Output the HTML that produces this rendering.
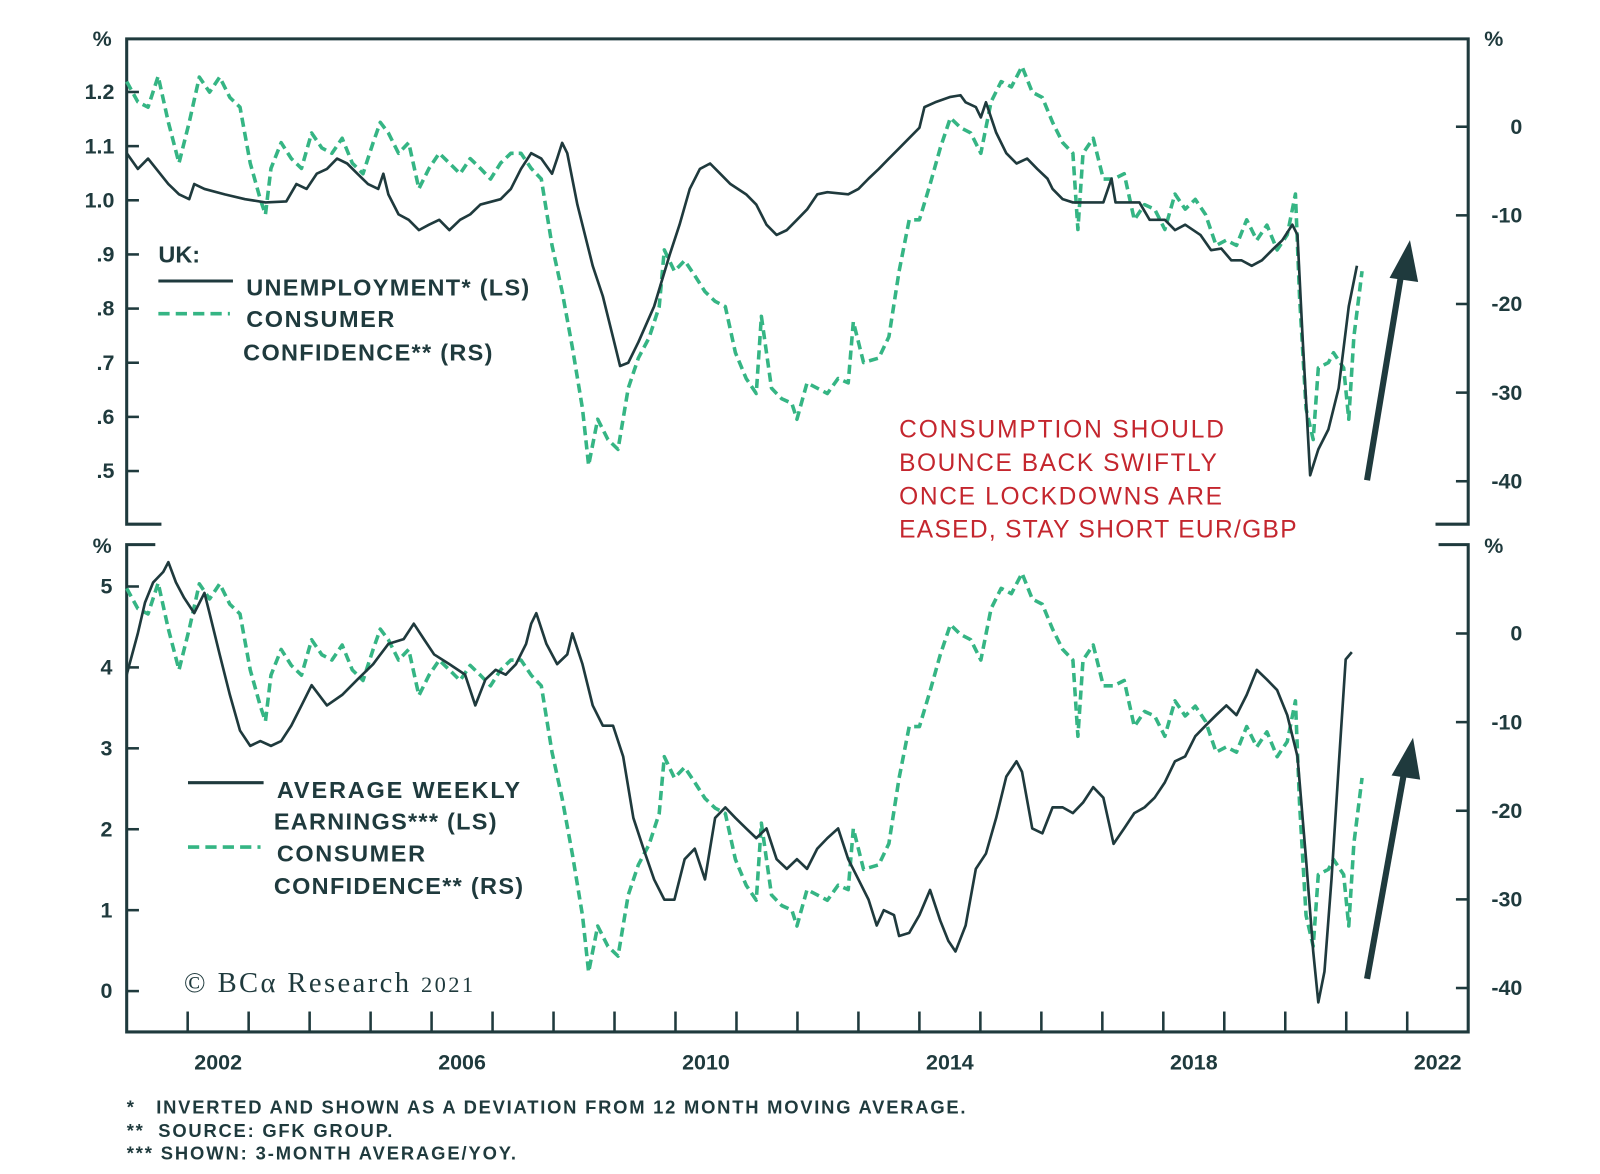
<!DOCTYPE html>
<html><head><meta charset="utf-8"><style>
html,body{margin:0;padding:0;background:#fff;}
svg{display:block;}
text{font-family:"Liberation Sans",sans-serif;}
</style></head><body>
<svg id="chart" width="1600" height="1174" viewBox="0 0 1566 1149" xmlns="http://www.w3.org/2000/svg">
<g id="frame" stroke="#1f3a3d" stroke-width="3" fill="none">
  <path d="M158,513 H124 V38 H1437 V513 H1405"/>
  <path d="M152,533 H124 V1010 H1437 V533 H1408"/>
</g>
<g id="axes" fill="#1f3a3d" font-size="21" font-weight="bold"></g>
<g id="series"></g>
<g fill="#1f3a3d" font-size="23" font-weight="bold">
  <text x="155" y="257">UK:</text>
  <line x1="155" y1="275" x2="228" y2="275" stroke="#1f3a3d" stroke-width="3"/>
  <text x="241" y="289" textLength="277">UNEMPLOYMENT* (LS)</text>
  <line x1="155" y1="307" x2="225" y2="307" stroke="#35b584" stroke-width="3.5" stroke-dasharray="11,6"/>
  <text x="241" y="320" textLength="145">CONSUMER</text>
  <text x="238" y="353" textLength="244">CONFIDENCE** (RS)</text>
</g>
<g fill="#1f3a3d" font-size="23" font-weight="bold">
  <line x1="184" y1="766" x2="258" y2="766" stroke="#1f3a3d" stroke-width="3"/>
  <text x="271" y="781" textLength="238">AVERAGE WEEKLY</text>
  <text x="268" y="812" textLength="218">EARNINGS*** (LS)</text>
  <line x1="184" y1="829" x2="255" y2="829" stroke="#35b584" stroke-width="3.5" stroke-dasharray="11,6"/>
  <text x="271" y="843" textLength="145">CONSUMER</text>
  <text x="268" y="875" textLength="244">CONFIDENCE** (RS)</text>
</g>
<g fill="#c4262e" font-size="24">
  <text x="880" y="428" textLength="318">CONSUMPTION SHOULD</text>
  <text x="880" y="461" textLength="311">BOUNCE BACK SWIFTLY</text>
  <text x="880" y="494" textLength="316">ONCE LOCKDOWNS ARE</text>
  <text x="880" y="526" textLength="389">EASED, STAY SHORT EUR/GBP</text>
</g>
<g fill="#1f3a3d" stroke="#1f3a3d">
  <g><line x1="1338" y1="470" x2="1372" y2="265" stroke-width="6"/><polygon points="1380,235 1360,272 1388,276" stroke="none"/></g>
  <g><line x1="1338" y1="958" x2="1375" y2="752" stroke-width="6"/><polygon points="1383,722 1362,759 1390,763" stroke="none"/></g>
</g>
<text x="180" y="971" style="font-family:'Liberation Serif',serif" font-size="28" fill="#1f3a3d" textLength="283">© BCα Research <tspan font-size="22">2021</tspan></text>
<g fill="#1f3a3d" font-size="18" font-weight="bold">
  <text x="124" y="1090" textLength="821" xml:space="preserve">*   INVERTED AND SHOWN AS A DEVIATION FROM 12 MONTH MOVING AVERAGE.</text>
  <text x="124" y="1113" textLength="260" xml:space="preserve">**  SOURCE: GFK GROUP.</text>
  <text x="124" y="1135" textLength="381" xml:space="preserve">*** SHOWN: 3-MONTH AVERAGE/YOY.</text>
</g>
</svg>
<script>
// months since Jan 2001
const ccMonths=[0,2.2,4.2,6.2,8.2,10.3,12.3,14.3,16.3,18.3,20.3,22.3,24.3,26.3,27.3,28.4,30.4,32.4,34.4,36.4,38.4,40.4,42.4,44.4,46.5,48.5,49.9,51.5,53.5,55.5,57.5,59.5,61.5,63.5,65.6,67.6,69.6,71.6,73.6,75.6,77.6,79.6,81.6,83.7,85.7,87.7,89.7,90.9,92.7,94.7,96.7,98.7,100.7,102.8,104.8,105.8,107.8,109.8,111.8,113.8,115.8,117.8,119.8,121.9,123.9,124.9,126.9,128.9,130.9,131.9,133.9,135.9,137.9,140,142,143,145,148,150,152,154,156,158.1,160.1,162.1,164.1,166.1,168.1,170.1,172.1,174.1,176.2,178.2,180.2,182.2,184.2,186.2,187.2,188.2,190.2,192.2,194.2,196.3,198.3,200.3,202.3,204.3,206.3,208.3,210.3,212.3,214.4,216.4,218.4,220.4,222.4,224.4,226.4,228.4,230,230.8,232.1,233.5,234.5,236.5,237.5,239.5,240.5,241.5,243.1];
const ccValues=[5.1,2.8,2.2,5.7,0.5,-4.1,0.5,5.6,3.9,5.6,3.3,2.2,-4.1,-8.2,-9.9,-4.7,-1.8,-3.6,-4.7,-0.7,-2.4,-3,-1.3,-4.1,-5.3,-1.8,0.5,-0.7,-3,-1.8,-7,-4.7,-3,-4.1,-5.3,-3.6,-4.7,-5.9,-4.1,-3,-3,-4.7,-5.9,-13.4,-18.6,-24.9,-31.8,-38.2,-33,-35.3,-36.4,-29.5,-26.1,-23.8,-20.3,-13.9,-16.3,-15.1,-16.8,-18.6,-19.7,-20.3,-25.5,-28.4,-30.1,-21.4,-29.5,-30.7,-31.2,-33,-28.9,-29.5,-30.1,-28.4,-28.9,-22,-26.6,-26.1,-23.7,-16.3,-10.5,-10.5,-6.5,-2.4,1,-0.1,-0.7,-3,2.8,5.1,4.5,6.8,3.9,3.3,0.5,-1.8,-3,-11.6,-3,-1.3,-5.9,-5.9,-5.3,-10.5,-8.8,-9.3,-11.6,-7.6,-9.3,-8.2,-9.9,-13.4,-12.8,-13.4,-10.5,-12.8,-11.1,-13.9,-12.2,-7.6,-19.1,-31.8,-35.3,-27.2,-26.6,-25.5,-27.2,-33,-23.7,-16.3];
const unMonths=[0,2.2,4.2,8.2,9.2,10.3,12.3,13.3,15.3,19.3,23.3,27.3,31.4,33.4,35.4,37.4,39.4,41.4,43.4,45.4,47.5,49.5,50.5,51.5,53.5,55.5,57.5,59.5,61.5,63.5,65.6,67.6,69.6,73.6,75.6,77.6,79.6,81.6,83.7,84.7,85.7,86.7,88.7,91.7,93.7,95.7,97.1,98.7,100.7,103.8,106.8,108.8,110.8,112.8,114.8,116.8,118.8,121.9,123.9,125.9,127.9,129.9,131.9,133.9,135.9,137.9,142,144,146,148,150,152,154,156,157,159.1,162.1,164.1,165.1,167.1,168.1,169.1,171.1,173.1,175.1,177.2,179.2,181.2,182.2,184.2,186.2,192.2,193.8,194.6,199.3,201.3,204.3,206.3,208.3,211.3,213.4,215.4,217.4,219.4,221.4,223.4,225.4,227.4,229.4,230.4,231.4,232.9,234.5,236.5,238.5,240.5,242.1];
const unValues=[1.087,1.058,1.077,1.03,1.021,1.011,1.002,1.03,1.021,1.011,1.002,0.996,0.998,1.03,1.021,1.049,1.058,1.077,1.068,1.049,1.03,1.021,1.049,1.011,0.974,0.964,0.945,0.955,0.964,0.945,0.964,0.974,0.992,1.002,1.021,1.058,1.087,1.077,1.049,1.077,1.106,1.087,0.992,0.879,0.823,0.747,0.694,0.7,0.738,0.804,0.898,0.955,1.021,1.058,1.068,1.049,1.03,1.011,0.992,0.955,0.936,0.945,0.964,0.983,1.011,1.015,1.011,1.021,1.04,1.058,1.077,1.096,1.115,1.134,1.172,1.181,1.191,1.194,1.181,1.172,1.153,1.181,1.125,1.087,1.068,1.077,1.058,1.04,1.021,1.002,0.996,0.996,1.04,0.996,0.996,0.964,0.964,0.945,0.955,0.936,0.908,0.911,0.889,0.889,0.879,0.889,0.908,0.926,0.955,0.936,0.747,0.492,0.54,0.577,0.653,0.804,0.879];
const erMonths=[0,2.2,3.6,5.2,7.2,8.2,9.7,11.3,13.3,15.3,16.3,18.3,20.3,22.3,24.3,26.3,28.4,30.4,32.4,34.4,36.4,39.4,42.4,45.4,48.5,51.5,54.5,56.5,58.5,60.5,63.5,66.6,68.6,70.6,72.6,74.6,76.6,78.6,79.6,80.6,82.6,84.7,86.7,87.7,89.7,91.7,93.7,95.7,97.7,99.7,101.7,103.8,105.8,107.8,109.8,111.8,113.8,115.8,117.8,119.8,121.9,123.9,125.9,127.9,129.9,131.9,133.9,135.9,137.9,140,142,144,146,147.6,149,151,152,154,156,158.1,160.1,161.7,163.1,165.1,167.1,169.1,171.1,173.1,175.1,176.2,178.2,180.2,182.2,184.2,186.2,188.2,190.2,192.2,194.2,196.3,198.3,200.3,202.3,204.3,206.3,208.3,210.3,212.3,214.4,216.4,218.4,220.4,222.4,224.4,226.4,228.4,230.4,232.1,233.5,234.5,235.7,237.1,238.5,239.9,241.1];
const erValues=[3.91,4.42,4.8,5.05,5.18,5.3,5.05,4.86,4.67,4.92,4.67,4.16,3.66,3.22,3.03,3.09,3.03,3.09,3.28,3.53,3.78,3.53,3.66,3.85,4.04,4.29,4.35,4.54,4.35,4.16,4.04,3.91,3.53,3.85,3.97,3.91,4.04,4.29,4.54,4.67,4.29,4.04,4.16,4.42,4.04,3.53,3.28,3.28,2.9,2.14,1.76,1.38,1.13,1.13,1.63,1.76,1.38,2.14,2.27,2.14,2.01,1.89,2.01,1.63,1.51,1.63,1.51,1.76,1.89,2.01,1.63,1.38,1.13,0.81,1,0.94,0.68,0.72,0.94,1.25,0.87,0.62,0.49,0.81,1.51,1.7,2.14,2.65,2.84,2.71,2.01,1.95,2.27,2.27,2.2,2.33,2.52,2.39,1.82,2.01,2.2,2.27,2.39,2.58,2.84,2.9,3.15,3.28,3.41,3.53,3.41,3.66,3.97,3.85,3.72,3.41,2.9,1.63,0.49,-0.14,0.24,1.38,2.77,4.1,4.19];
const yearLabels=["2002","2006","2010","2014","2018","2022"];
const topLeftTicks=["1.2","1.1","1.0",".9",".8",".7",".6",".5"];
const topLeftVals=[1.2,1.1,1.0,0.9,0.8,0.7,0.6,0.5];
const botLeftTicks=["5","4","3","2","1","0"];
const botLeftVals=[5,4,3,2,1,0];
const rightTicks=["0","-10","-20","-30","-40"];
const rightVals=[0,-10,-20,-30,-40];

const NS="http://www.w3.org/2000/svg";
const X0=124, X1=1437;
const xM=m=>X0+(m/264)*(X1-X0);
const xYear=y=>xM((y-2001)*12);
const yTopL=v=>196-(v-1.0)*530;
const yTopR=v=>124-v*8.675;
const yBotL=v=>970-v*79.2;
const yBotR=v=>620-v*8.675;
const axes=document.getElementById('axes');
const series=document.getElementById('series');
function mk(tag,attrs,parent){const e=document.createElementNS(NS,tag);for(const k in attrs)e.setAttribute(k,attrs[k]);parent.appendChild(e);return e;}
function txt(x,y,s,anchor,parent){const t=mk('text',{x:x,y:y,'text-anchor':anchor},parent);t.textContent=s;return t;}

[[100,45],[1462,45],[100,541],[1462,541]].forEach(p=>{
  const t=txt(p[0],p[1],'%','middle',axes);
  
  
});
topLeftVals.forEach((v,i)=>{
  const y=yTopL(v);
  const t=txt(112,y+7,topLeftTicks[i],'end',axes);
  
  
  mk('line',{x1:124,x2:136,y1:y,y2:y,stroke:'#1f3a3d','stroke-width':2.5},axes);
});
botLeftVals.forEach((v,i)=>{
  const y=yBotL(v);
  const t=txt(110,y+7,botLeftTicks[i],'end',axes);
  
  
  mk('line',{x1:124,x2:136,y1:y,y2:y,stroke:'#1f3a3d','stroke-width':2.5},axes);
});
rightVals.forEach((v,i)=>{
  [yTopR(v),yBotR(v)].forEach(y=>{
    const t=txt(1490,y+7,rightTicks[i],'end',axes);
    
    
    mk('line',{x1:1425,x2:1437,y1:y,y2:y,stroke:'#1f3a3d','stroke-width':2.5},axes);
  });
});
for(let yr=2002;yr<=2022;yr++){
  const x=xYear(yr);
  mk('line',{x1:x,x2:x,y1:990,y2:1010,stroke:'#1f3a3d','stroke-width':2.5},axes);
}
yearLabels.forEach(l=>{
  const t=txt(xYear(+l+0.5),1047,l,'middle',axes);
  
  
});

function line(ms,vs,yf,dashed,name){
  const d=ms.map((m,i)=>(i?'L':'M')+xM(m).toFixed(1)+','+yf(vs[i]).toFixed(1)).join(' ');
  const p=mk('path',{d:d,fill:'none',stroke:dashed?'#35b584':'#1f3a3d','stroke-width':dashed?3.5:2.6,'stroke-linejoin':'round'},series);
  if(dashed)p.setAttribute('stroke-dasharray','9,5');
  
  
}
line(ccMonths,ccValues,yTopR,true,'top-consumer-confidence-line');
line(unMonths,unValues,yTopL,false,'unemployment-line');
line(ccMonths,ccValues,yBotR,true,'bottom-consumer-confidence-line');
line(erMonths,erValues,yBotL,false,'earnings-line');
</script>
</body></html>
